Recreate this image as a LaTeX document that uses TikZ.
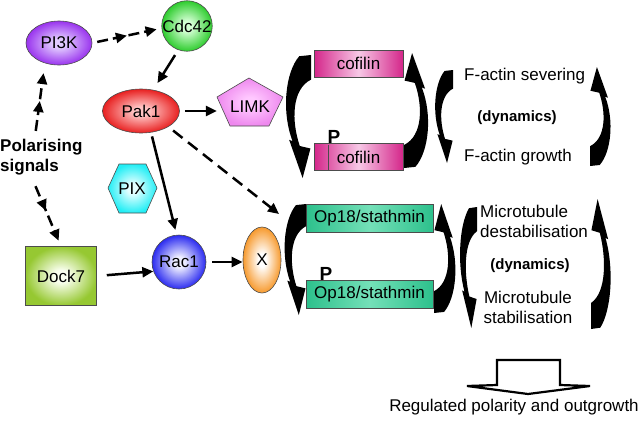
\documentclass[tikz,border=0pt]{standalone}
\usepackage{fontspec}
\setmainfont{Liberation Sans}
\usepackage{tikz}
\usetikzlibrary{arrows.meta, positioning, shapes.geometric, decorations.markings}
\usepackage{xcolor}
\definecolor{pikout}{HTML}{9933EE}
\definecolor{pikin}{HTML}{E2CCFF}
\definecolor{cdcout}{HTML}{2ECC2E}
\definecolor{cdcin}{HTML}{D4FFD4}
\definecolor{pakout}{HTML}{E82020}
\definecolor{pakin}{HTML}{FFC4C4}
\definecolor{limkout}{HTML}{EE88EE}
\definecolor{limkin}{HTML}{FFC8FF}
\definecolor{pixout}{HTML}{22EEF5}
\definecolor{pixin}{HTML}{E4FFFF}
\definecolor{dockout}{HTML}{96C832}
\definecolor{dockin}{HTML}{FAFFF0}
\definecolor{racout}{HTML}{2B2BF0}
\definecolor{racin}{HTML}{EEEEFF}
\definecolor{xout}{HTML}{F79A2E}
\definecolor{xin}{HTML}{FFFFFF}
\definecolor{cofout}{HTML}{D4268A}
\definecolor{cofin}{HTML}{F7C8E6}
\definecolor{opout}{HTML}{2DC08C}
\definecolor{opin}{HTML}{74E0B8}
\makeatletter
\pgfdeclareradialshading[tikz@radial@inner,tikz@radial@outer]{softradial}{\pgfpoint{0bp}{0bp}}{%
	color(0bp)=(tikz@radial@inner); color(5bp)=(tikz@radial@inner);
	color(25bp)=(tikz@radial@outer); color(50bp)=(tikz@radial@outer)}
\makeatother
\tikzset{%
	every protein/.style={
		draw=black!70,
		line width=0.6pt,
		inner sep=0pt,
		font=\fontsize{17}{20}\selectfont
	},
	glow/.style 2 args={inner color=#1, outer color=#2, shading=softradial},
	ball/.style={every protein, circle},
	oval/.style={every protein, ellipse},
	stripbox/.style={every protein, rectangle, minimum height=27pt},
	txt/.style={inner sep=0pt, font=\fontsize{17}{20}\selectfont},
}
% black bent arrow in a unit box: wide end top right, tip at the bottom
\newcommand{\bendarrow}[4]{%
	\fill[black, shift={(#1,#2)}, xscale=#3, yscale=#4]
		(1,0) -- (0.58,0.01) .. controls (0.08,0.14) and (-0.06,0.46) .. (0.34,0.70)
		-- (0.22,0.69) -- (0.70,1) -- (0.98,0.76) -- (0.60,0.74)
		.. controls (0.30,0.54) and (0.30,0.28) .. (1,0.2) -- cycle;
}

\begin{document}
\begin{tikzpicture}[
	x=1pt, y=-1pt,
	act/.style={draw, line width=2.5pt, -{Triangle[length=11pt, width=10pt]}},
	sigact/.style={act, dash pattern=on 11pt off 5pt,
		postaction={decorate, decoration={markings,
			mark=at position 0.5 with {\arrow{Triangle[length=11pt, width=10pt]}}}}},
	dashact/.style={act, dash pattern=on 12pt off 7pt}
	]
	\useasboundingbox (0,0) rectangle (640,424);

	% Nodes of the pathway
	\node[oval, minimum width=66pt, minimum height=44pt, glow={pikin}{pikout}] (PI3K) at (59,43) {PI3K};
	\node[ball, minimum size=50pt, glow={cdcin}{cdcout}] (Cdc) at (187,26) {Cdc42};
	\node[oval, minimum width=77pt, minimum height=44pt, glow={pakin}{pakout}] (Pak) at (141,111) {Pak1};
	\shade[every protein, glow={limkin}{limkout}] (249,78) -- (283,97) -- (269,126) -- (230,126) -- (217,97) -- cycle;
	\node[txt, minimum width=66pt] (LIMK) at (250,107) {LIMK};
	\shade[every protein, glow={pixin}{pixout}] (119,164) -- (146,164) -- (157,188) -- (146,213) -- (119,213) -- (108,188) -- cycle;
	\node[txt] (PIX) at (132,189) {PIX};
	\node[txt, font=\bfseries\fontsize{17}{20}\selectfont, align=left, anchor=west] (sig) at (0,157) {Polarising\\signals};
	\node[every protein, rectangle, minimum width=71pt, minimum height=59pt, glow={dockin}{dockout}] (Dock) at (61,276) {Dock7};
	\node[ball, minimum size=54pt, glow={racin}{racout}] (Rac) at (179,262) {Rac1};
	\node[oval, minimum width=38pt, minimum height=66pt, glow={xin}{xout}] (X) at (262,260) {X};

	\node[stripbox, minimum width=89pt, left color=cofout, right color=cofout, middle color=cofin] (cofA) at (358.5,63.5) {cofilin};
	\node[stripbox, minimum width=89pt, left color=cofout, right color=cofout, middle color=cofin] (cofB) at (358.5,157) {cofilin};
	\node[stripbox, minimum width=127pt, minimum height=28pt, left color=opout, right color=opout, middle color=opin] (opA) at (369.5,218) {Op18/stathmin};
	\node[stripbox, minimum width=127pt, minimum height=28pt, left color=opout, right color=opout, middle color=opin] (opB) at (369.5,294) {Op18/stathmin};
	\node[txt, font=\bfseries\fontsize{19}{20}\selectfont] (PA) at (334,137) {P};
	\node[txt, font=\bfseries\fontsize{19}{20}\selectfont] (PB) at (326,274) {P};
	\draw[black!70, line width=0.6pt] (328,145) -- (328,170);

	\node[txt, anchor=west] (sever) at (464,76) {F-actin severing};
	\node[txt, font=\bfseries\fontsize{15}{18}\selectfont] (dynA) at (517,118) {(dynamics)};
	\node[txt, anchor=west] (grow) at (464,157) {F-actin growth};
	\node[txt, align=left, anchor=west] (destab) at (480,221) {Microtubule\\destabilisation};
	\node[txt, font=\bfseries\fontsize{15}{18}\selectfont] (dynB) at (530,266) {(dynamics)};
	\node[txt, align=center] (stab) at (528,307) {Microtubule\\stabilisation};
	\node[txt] (out) at (514,407) {Regulated polarity and outgrowth};

	% bent arrows of the two cycles
	\bendarrow{283}{55}{28}{123}
	\bendarrow{431}{168}{-27}{-115}
	\bendarrow{433}{70}{20}{93}
	\bendarrow{613}{166}{-23}{-99}
	\bendarrow{282}{204}{24}{111}
	\bendarrow{458}{313}{-24}{-109}
	\bendarrow{458}{207}{19}{121}
	\bendarrow{613}{329}{-22}{-130}

	% hollow output arrow
	\draw[line width=2.2pt, fill=white] (497,360) -- (560,360) -- (560,385) -- (590,386) -- (528,394) -- (467,386) -- (497,385) -- cycle;

	% Connectors
	\coordinate (Xtip) at (279,214);
	\draw[sigact, shorten <=8pt, shorten >=10pt] (sig.110) -- (PI3K.235);
	\draw[sigact, shorten <=5pt, shorten >=5pt] (PI3K.east) -- (Cdc.185);
	\draw[sigact, shorten <=12pt, shorten >=6pt] (sig.240) -- (Dock.north);
	\draw[act, shorten <=6pt, shorten >=8pt] (Cdc.250) -- (Pak.60);
	\draw[act, shorten <=5pt] (Pak.east) -- (Pak.east -| LIMK.west);
	\draw[act, shorten <=4pt, shorten >=5pt] (Pak.295) -- (Rac.95);
	\draw[dashact, shorten <=6pt] (Pak.330) -- (Xtip);
	\draw[act, shorten <=10pt] (Dock.east) -- (Rac.200);
	\draw[act, shorten <=6pt] (Rac.east) -- (Rac.east -| X.west);
\end{tikzpicture}
\end{document}
